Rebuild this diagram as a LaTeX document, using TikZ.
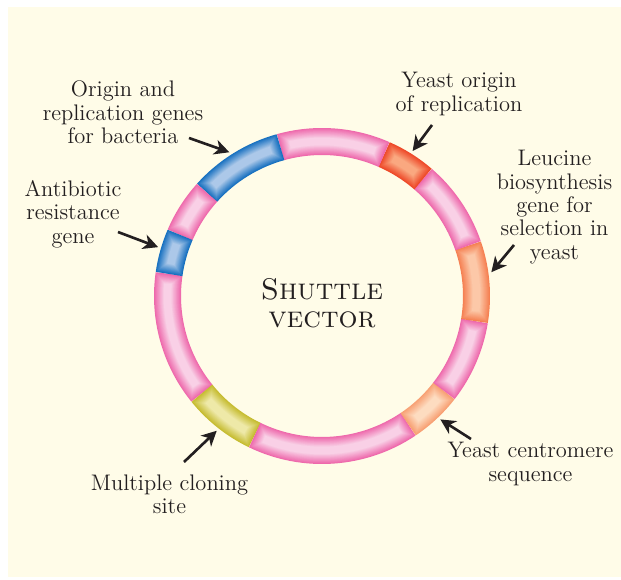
\documentclass[tikz,border=0pt]{standalone}
\usepackage{tikz}
\usepackage{xcolor}
\usetikzlibrary{arrows.meta}
\definecolor{PaperCream}{RGB}{255,252,232}
\definecolor{InkColor}{RGB}{35,31,32}
\definecolor{PinkEdge}{RGB}{238,105,172}
\definecolor{PinkCore}{RGB}{249,208,230}
\definecolor{BlueEdge}{RGB}{22,112,192}
\definecolor{BlueCore}{RGB}{172,200,233}
\definecolor{RedEdge}{RGB}{238,72,40}
\definecolor{RedCore}{RGB}{250,168,128}
\definecolor{LeuEdge}{RGB}{245,128,82}
\definecolor{LeuCore}{RGB}{252,200,168}
\definecolor{CenEdge}{RGB}{248,160,115}
\definecolor{CenCore}{RGB}{253,220,192}
\definecolor{McsEdge}{RGB}{198,188,48}
\definecolor{McsCore}{RGB}{238,233,168}
\tikzset{
  genelabel/.style={align=center, text=InkColor, font=\fontsize{12.8}{13.3}\selectfont},
  vectorname/.style={align=center, text=InkColor, font=\fontsize{17}{15}\selectfont},
  pointer/.style={-{Stealth[length=8.5pt, width=8.5pt, inset=2.5pt]}, line width=1.5pt, InkColor},
}
% one coloured piece of the plasmid ring: start angle, end angle, edge colour, core colour
\newcommand{\ringpart}[4]{%
  \foreach \k in {0,...,17}{
    \pgfmathsetmacro\bandw{0.54-0.03*\k}
    \pgfmathsetmacro\trim{0.28*\k}
    \pgfmathtruncatemacro\shade{100*min(1,\k/13)}
    \draw[line width=\bandw cm, #4!\shade!#3]
      (#1+\trim:3.09) arc[start angle=#1+\trim, end angle=#2-\trim, radius=3.09];
  }%
}

\begin{document}
\begin{tikzpicture}
      \useasboundingbox (-6.44,-5.66) rectangle (5.98,5.92);
      \fill[PaperCream] (-6.28,-5.62) rectangle (5.98,5.78);

      % ring, counter-clockwise from the antibiotic gene
      \ringpart{171.8}{219}{PinkEdge}{PinkCore}
      \ringpart{219}{244.2}{McsEdge}{McsCore}
      \ringpart{244.2}{303.9}{PinkEdge}{PinkCore}
      \ringpart{303.9}{322.1}{CenEdge}{CenCore}
      \ringpart{322.1}{350.7}{PinkEdge}{PinkCore}
      \ringpart{350.7}{379}{LeuEdge}{LeuCore}
      \ringpart{19}{49.2}{PinkEdge}{PinkCore}
      \ringpart{49.2}{66.3}{RedEdge}{RedCore}
      \ringpart{66.3}{105.6}{PinkEdge}{PinkCore}
      \ringpart{105.6}{138.1}{BlueEdge}{BlueCore}
      \ringpart{138.1}{156.7}{PinkEdge}{PinkCore}
      \ringpart{156.7}{171.8}{BlueEdge}{BlueCore}

      \node[vectorname] (vec) at (0,-0.14) {\textsc{Shuttle}\\[1pt]\textsc{vector}};

      \node[genelabel] (oriB) at (-3.98,3.67) {Origin and\\replication genes\\for bacteria};
      \node[genelabel] (oriY) at (2.74,4.04) {Yeast origin\\of replication};
      \node[genelabel] (leu) at (4.65,1.78) {Leucine\\biosynthesis\\gene for\\selection in\\yeast};
      \node[genelabel] (abr) at (-4.98,1.64) {Antibiotic\\resistance\\gene};
      \node[genelabel] (cen) at (4.17,-3.36) {Yeast centromere\\sequence};
      \node[genelabel] (mcs) at (-3.05,-3.96) {Multiple cloning\\site};

      \coordinate (oriB-t) at (-2.66,3.16);
      \coordinate (oriB-h) at (122.8:3.42);
      \coordinate (oriY-t) at (2.20,3.42);
      \coordinate (oriY-h) at (58:3.42);
      \coordinate (leu-t) at (3.84,1.02);
      \coordinate (leu-h) at (8:3.42);
      \coordinate (abr-t) at (-4.08,1.28);
      \coordinate (abr-h) at (163.4:3.42);
      \coordinate (cen-t) at (2.98,-2.86);
      \coordinate (cen-h) at (-46.2:3.42);
      \coordinate (mcs-t) at (-2.76,-3.32);
      \coordinate (mcs-h) at (232:3.42);

      \draw[pointer] (oriB-t)--(oriB-h);
      \draw[pointer] (oriY-t)--(oriY-h);
      \draw[pointer] (leu-t)--(leu-h);
      \draw[pointer] (abr-t)--(abr-h);
      \draw[pointer] (cen-t)--(cen-h);
      \draw[pointer] (mcs-t)--(mcs-h);
    \end{tikzpicture}
\end{document}
